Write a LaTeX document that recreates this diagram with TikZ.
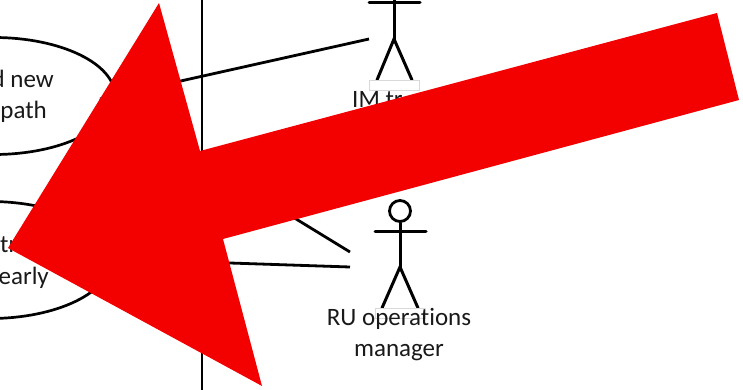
\documentclass[tikz,border=0pt]{standalone}
\usepackage{fontspec}
\setmainfont[Ligatures=CommonOff]{Carlito}
\usetikzlibrary{shapes.geometric}

\tikzset{
    usecase/.style={draw, ellipse, line width=2.7pt, inner sep=0pt, minimum width=242pt, minimum height=117pt},
    label/.style={font=\fontsize{25}{31}\selectfont, text=black!90, inner sep=0pt},
    stick/.style={line width=3pt, line cap=round},
    link/.style={line width=2.8pt},
    handle/.style={draw=black!15, fill=white, line width=0.7pt, inner sep=0pt, minimum width=50pt, minimum height=10pt},
}

\begin{document}
\begin{tikzpicture}[x=1pt, y=-1pt]
    \useasboundingbox (0,0) rectangle (743,390);

    \node[usecase] (newpath) at (-6,96)  {};
    \node[usecase] (yearly)  at (-10,260) {};

    \node[label, anchor=base east] (newpathA) at (54,88)  {d new};
    \node[label, anchor=base east] (newpathB) at (47,119) {path};
    \node[label, anchor=base west] (yearlyA)  at (0,252)  {tr};
    \node[label, anchor=base east] (yearlyB)  at (49,284) {early};

    \draw[line width=2.8pt] (202,0) -- (202,390);

    % IM actor, head is off the page
    \coordinate (imneck) at (394,-5);
    \coordinate (imhip)  at (394,39);
    \coordinate (imarmL) at (369,3);
    \coordinate (imarmR) at (420,3);
    \coordinate (imfootL) at (377,80);
    \coordinate (imfootR) at (412,80);
    \coordinate (imlink) at (369,39);
    \draw[stick] (imneck) -- (imhip);
    \draw[stick] (imarmL) -- (imarmR);
    \draw[stick] (imfootL) -- (imhip) -- (imfootR);
    \node[handle] (imbox) at (394,85) {};
    \node[label, anchor=base west] (imname) at (352,108) {IM tr};

    % RU actor
    \node[draw, circle, line width=2.8pt, minimum size=21pt, inner sep=0pt] (ruhead) at (400,211) {};
    \coordinate (ruhip)   at (400,267);
    \coordinate (ruarmL)  at (375,231);
    \coordinate (ruarmR)  at (426,231);
    \coordinate (rufootL) at (382,308);
    \coordinate (rufootR) at (418,308);
    \coordinate (rulinkA) at (350,252);
    \coordinate (rulinkB) at (350,267);
    \draw[stick] (ruhead) -- (ruhip);
    \draw[stick] (ruarmL) -- (ruarmR);
    \draw[stick] (rufootL) -- (ruhip) -- (rufootR);
    \node[handle] (rubox) at (400,313) {};
    % base of a two line node is its last line
    \node[label, align=center, anchor=base] (runame) at (399,356) {RU operations\\manager};

    \coordinate (newpathE) at (100,99);
    \coordinate (yearlyE)  at (110,259);
    \draw[link] (imlink) -- (newpathE);
    \draw[link] (rulinkA) -- (newpathE);
    \draw[link] (rulinkB) -- (yearlyE);

    \definecolor{arrowred}{RGB}{243,0,0}
    \fill[arrowred] (8,248) -- (159,3) -- (200,151) -- (717,13) -- (739,100) -- (223,239) -- (262,386) -- cycle;
\end{tikzpicture}
\end{document}
